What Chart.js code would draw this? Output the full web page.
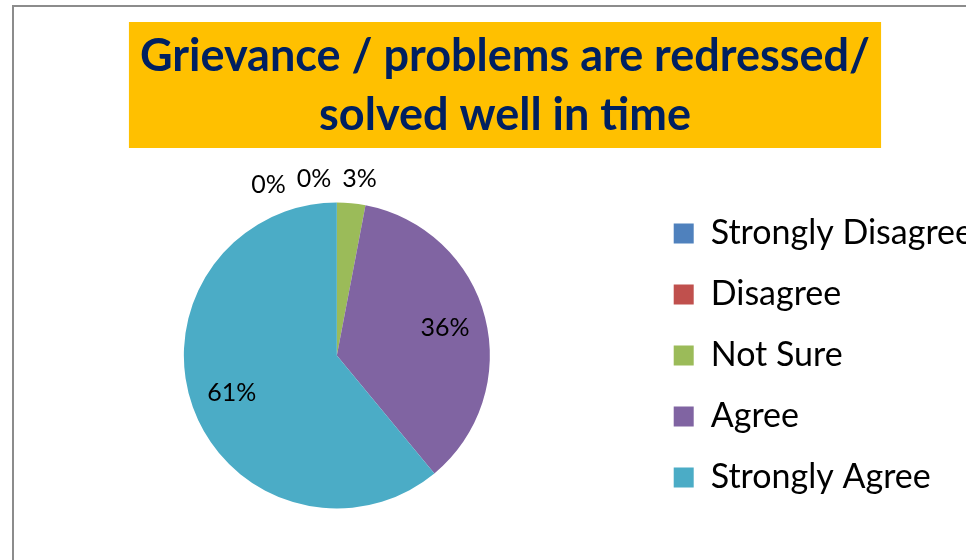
<!DOCTYPE html>
<html>
<head>
<meta charset="utf-8">
<script src="https://cdn.jsdelivr.net/npm/chart.js@4.4.1/dist/chart.umd.min.js"></script>
<style>
  html, body { margin: 0; padding: 0; background: #fff; overflow: hidden; }
  #frame { position: absolute; left: 12px; top: 5px; width: 1000px; height: 600px; border: 2px solid #8c8c8c; }
  #frame canvas { display: block; }
</style>
</head>
<body>
<div id="frame"><canvas id="pie" width="984" height="556"></canvas></div>
<script>
const titleLines = ["Grievance / problems are redressed/", "solved well in time"];
const categories = ["Strongly Disagree", "Disagree", "Not Sure", "Agree", "Strongly Agree"];
const shares = [0, 0, 3, 36, 61];
const sliceColors = ["#4f81bd", "#c0504d", "#9bbb59", "#8064a2", "#4bacc6"];

// orange box behind the title text
const titleBox = {
  id: "titleBox",
  beforeDraw(chart) {
    const t = chart.titleBlock;
    const ctx = chart.ctx;
    ctx.save();
    ctx.font = Chart.helpers.toFont(t.options.font).string;
    const w = Math.max(...t.options.text.map(s => ctx.measureText(s).width));
    const cx = (t.left + t.right) / 2;
    ctx.fillStyle = "#ffc000";
    ctx.fillRect(cx - w / 2 - 11, t.top, w + 22, t.height);
    ctx.restore();
  }
};

// percentage labels: inside for big slices, above the pie for small ones
const sliceLabels = {
  id: "sliceLabels",
  afterDatasetsDraw(chart) {
    const ctx = chart.ctx;
    const meta = chart.getDatasetMeta(0);
    const total = shares.reduce((a, b) => a + b, 0);
    ctx.save();
    ctx.font = "25px Lato";
    ctx.fillStyle = "#000";
    ctx.textAlign = "center";
    ctx.textBaseline = "middle";
    const outside = [];
    meta.data.forEach((arc, i) => {
      const p = arc.getProps(["x", "y", "startAngle", "endAngle", "outerRadius"], true);
      const mid = (p.startAngle + p.endAngle) / 2;
      const text = Math.round(shares[i] / total * 100) + "%";
      if (shares[i] / total >= 0.1) {
        const d = p.outerRadius * 0.73;
        ctx.fillText(text, p.x + Math.cos(mid) * d, p.y + Math.sin(mid) * d);
      } else {
        outside.push({ text, mid, x: p.x, y: p.y, r: p.outerRadius + 24, w: ctx.measureText(text).width });
      }
    });
    let limit = Infinity;
    for (let k = outside.length - 1; k >= 0; k--) {
      const o = outside[k];
      const lx = Math.min(o.x + Math.cos(o.mid) * o.r + 6, limit - o.w / 2);
      const dx = lx - o.x;
      const drop = o.r - Math.sqrt(Math.max(o.r * o.r - dx * dx, 0));
      ctx.fillText(o.text, lx, o.y - o.r + drop * 0.5);
      limit = lx - o.w / 2 - 11;
    }
    ctx.restore();
  }
};

new Chart(document.getElementById("pie"), {
  type: "pie",
  data: {
    labels: categories,
    datasets: [{
      data: shares,
      backgroundColor: sliceColors,
      borderWidth: 0,
      radius: 153
    }]
  },
  options: {
    responsive: false,
    animation: false,
    devicePixelRatio: 1,
    layout: { padding: { left: 13, right: 15, top: 15, bottom: 0 } },
    plugins: {
      tooltip: { enabled: false },
      title: {
        display: true,
        text: titleLines,
        color: "#002060",
        font: { family: "Lato", size: 45, weight: "bold", lineHeight: "59px" },
        padding: { top: 5, bottom: 3 }
      },
      legend: {
        position: "right",
        fullSize: false,
        align: "center",
        maxWidth: 338,
        labels: {
          boxWidth: 20,
          boxHeight: 20,
          padding: 27,
          color: "#000",
          font: { family: "Lato", size: 34 }
        }
      }
    }
  },
  plugins: [titleBox, sliceLabels]
});
</script>
</body>
</html>
